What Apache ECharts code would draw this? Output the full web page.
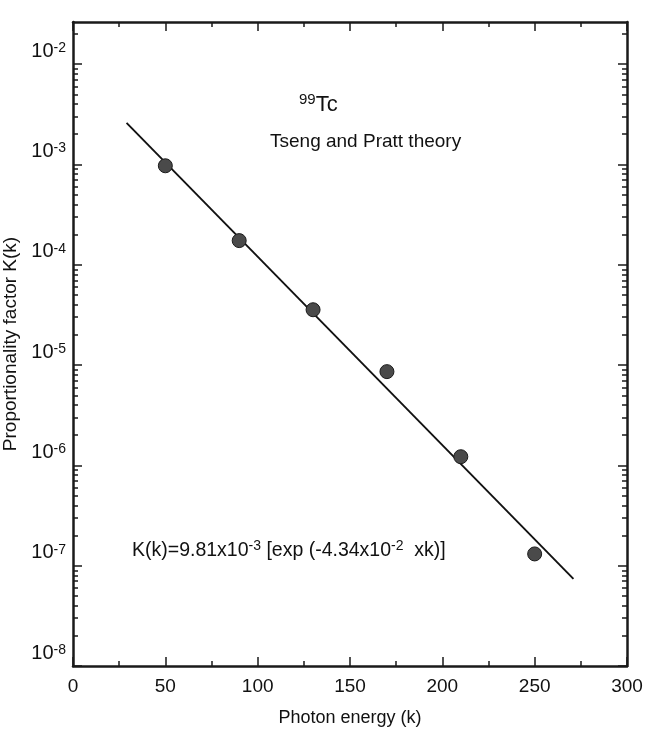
<!DOCTYPE html>
<html>
<head>
<meta charset="utf-8">
<script src="https://cdn.jsdelivr.net/npm/echarts@6/dist/echarts.min.js"></script>
<style>
html, body { margin: 0; padding: 0; background: #fff; }
#main { width: 651px; height: 733px; }
</style>
</head>
<body>
<div id="main"></div>
<script>
// values
var energy = [50, 90, 130, 170, 210, 250];
var kFactor = [9.7e-4, 1.74e-4, 3.56e-5, 8.6e-6, 1.22e-6, 1.31e-7];
// fitted line, two end points
var fitEnergy = [29, 271];
var fitK = [2.6e-3, 7.4e-8];
// y axis ticks
var decades = [1e-8, 1e-7, 1e-6, 1e-5, 1e-4, 1e-3, 1e-2];
var minorMult = [2, 3, 4, 5, 6, 7, 8, 9];
var yMin = 1e-8, yMax = 0.0263;

var FONT = 'Liberation Sans, Arial, sans-serif';
var AX = '#1a1a1a';

var minorTicks = [];
decades.forEach(function (d) {
    minorMult.forEach(function (m) {
        var v = d * m;
        if (v < yMax) minorTicks.push(v);
    });
});

function expLabel(v) {
    var e = Math.round(Math.log10(v));
    return '{b|10}{e|' + e + '}';
}

function yAxisDef(pos, ticks, len, withLine, withLabel) {
    return {
        type: 'log', logBase: 10, position: pos,
        min: yMin, max: yMax,
        axisLine: { show: withLine, lineStyle: { color: AX, width: 2.5 } },
        axisTick: { show: true, inside: true, length: len, customValues: ticks,
            lineStyle: { color: AX, width: 1.5 } },
        minorTick: { show: false },
        splitLine: { show: false },
        axisLabel: withLabel ? {
            show: true, customValues: ticks, margin: 7,
            verticalAlign: 'bottom', padding: [0, 0, 3, 0],
            formatter: expLabel,
            rich: {
                b: { fontSize: 20, lineHeight: 20, fontFamily: FONT, color: '#111', verticalAlign: 'bottom' },
                e: { fontSize: 14, lineHeight: 14, fontFamily: FONT, color: '#111', verticalAlign: 'top',
                    padding: [0, 0, 10, 0] }
            }
        } : { show: false }
    };
}

function xAxisDef(pos, withLabel) {
    return {
        type: 'value', position: pos, min: 0, max: 300, interval: 50,
        axisLine: { show: true, lineStyle: { color: AX, width: 2.5 } },
        axisTick: { show: true, inside: true, length: 9, lineStyle: { color: AX, width: 1.5 } },
        minorTick: { show: true, splitNumber: 2, length: 5, lineStyle: { color: AX, width: 1.5 } },
        splitLine: { show: false },
        axisLabel: withLabel ? { show: true, fontSize: 19, margin: 11, color: '#111', fontFamily: FONT }
            : { show: false },
        name: withLabel ? 'Photon energy (k)' : '',
        nameLocation: 'middle', nameGap: 43,
        nameTextStyle: { fontSize: 18, color: '#111', fontFamily: FONT }
    };
}

var chart = echarts.init(document.getElementById('main'), null, { renderer: 'canvas' });

var yLeft = yAxisDef('left', decades, 9, true, true);
yLeft.name = 'Proportionality factor K(k)';
yLeft.nameLocation = 'middle';
yLeft.nameRotate = 90;
yLeft.nameGap = 44;
yLeft.nameTextStyle = { fontSize: 19, color: '#111', fontFamily: FONT };

var option = {
    backgroundColor: '#fff',
    animation: false,
    grid: { left: 73, right: 24, top: 22, bottom: 67, containLabel: false, outerBoundsMode: 'none' },
    xAxis: [xAxisDef('bottom', true), xAxisDef('top', false)],
    yAxis: [
        yLeft,
        yAxisDef('left', minorTicks, 5, false, false),
        yAxisDef('right', decades, 9, true, false),
        yAxisDef('right', minorTicks, 5, false, false)
    ],
    series: [{
        type: 'line',
        xAxisIndex: 0, yAxisIndex: 0,
        data: fitEnergy.map(function (x, i) { return [x, fitK[i]]; }),
        symbol: 'none',
        lineStyle: { color: '#111', width: 1.9 },
        z: 2
    }, {
        type: 'scatter',
        xAxisIndex: 0, yAxisIndex: 0,
        data: energy.map(function (x, i) { return [x, kFactor[i]]; }),
        symbol: 'circle', symbolSize: 14,
        itemStyle: { color: '#4a4a4a', borderColor: '#1a1a1a', borderWidth: 1, opacity: 1 },
        z: 3
    }],
    graphic: [{
        type: 'text', left: 299, top: 92,
        style: {
            text: '{s|99}{m|Tc}',
            rich: {
                s: { fontSize: 15, fontFamily: FONT, fill: '#111', verticalAlign: 'top', padding: [0, 0, 9, 0] },
                m: { fontSize: 22, fontFamily: FONT, fill: '#111', verticalAlign: 'bottom' }
            }
        }
    }, {
        type: 'text', left: 270, top: 132,
        style: { text: 'Tseng and Pratt theory', fontSize: 19, fontFamily: FONT, fill: '#111' }
    }, {
        type: 'text', left: 132, top: 539,
        style: {
            text: '{m|K(k)=9.81x10}{s|-3}{m| [exp (-4.34x10}{s|-2}{m|  xk)]}',
            rich: {
                m: { fontSize: 19.5, fontFamily: FONT, fill: '#111', verticalAlign: 'bottom' },
                s: { fontSize: 14, fontFamily: FONT, fill: '#111', verticalAlign: 'top', padding: [0, 0, 8, 0] }
            }
        }
    }]
};

chart.setOption(option);
</script>
</body>
</html>
